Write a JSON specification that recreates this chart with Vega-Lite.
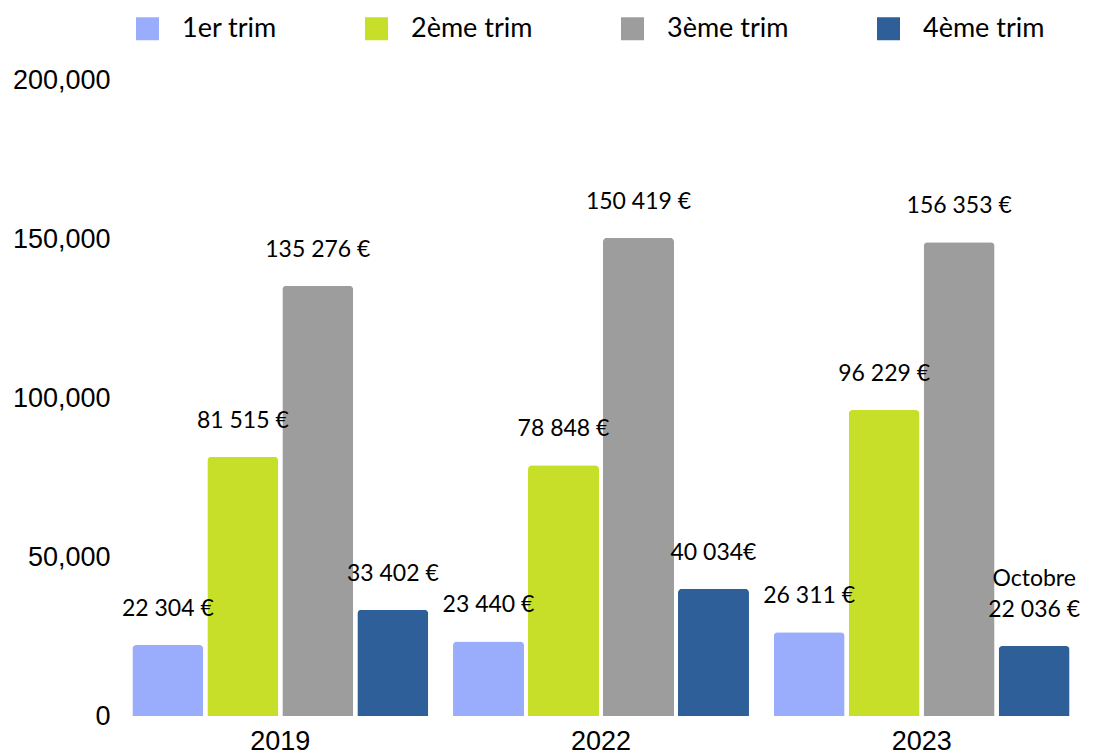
{
  "$schema": "https://vega.github.io/schema/vega-lite/v6.json",
  "width": 962,
  "height": 636,
  "autosize": {"type": "none"},
  "padding": {"left": 120, "top": 80, "right": 19, "bottom": 37},
  "background": "white",
  "config": {"view": {"stroke": null}, "font": "Lato"},
  "data": {
    "values": [
      {"year": "2019", "quarter": "1er trim", "value": 22304, "label": "22 304 €", "note": null},
      {"year": "2019", "quarter": "2ème trim", "value": 81515, "label": "81 515 €", "note": null},
      {"year": "2019", "quarter": "3ème trim", "value": 135276, "label": "135 276 €", "note": null},
      {"year": "2019", "quarter": "4ème trim", "value": 33402, "label": "33 402 €", "note": null},
      {"year": "2022", "quarter": "1er trim", "value": 23440, "label": "23 440 €", "note": null},
      {"year": "2022", "quarter": "2ème trim", "value": 78848, "label": "78 848 €", "note": null},
      {"year": "2022", "quarter": "3ème trim", "value": 150419, "label": "150 419 €", "note": null},
      {"year": "2022", "quarter": "4ème trim", "value": 40034, "label": "40 034€", "note": null},
      {"year": "2023", "quarter": "1er trim", "value": 26311, "label": "26 311 €", "note": null},
      {"year": "2023", "quarter": "2ème trim", "value": 96229, "label": "96 229 €", "note": null},
      {"year": "2023", "quarter": "3ème trim", "value": 149000, "label": "156 353 €", "note": null},
      {"year": "2023", "quarter": "4ème trim", "value": 22036, "label": "22 036 €", "note": "Octobre"}
    ]
  },
  "encoding": {
    "x": {
      "field": "year",
      "type": "nominal",
      "scale": {"paddingInner": 0.077, "paddingOuter": 0.0385},
      "axis": {
        "title": null,
        "labelAngle": 0,
        "ticks": false,
        "domain": false,
        "grid": false,
        "labelFont": "Liberation Sans",
        "labelFontSize": 27,
        "labelColor": "#000000",
        "labelPadding": 12
      }
    },
    "xOffset": {
      "field": "quarter",
      "type": "nominal",
      "scale": {"paddingInner": 0.0533, "paddingOuter": 0}
    },
    "y": {
      "field": "value",
      "type": "quantitative",
      "scale": {"domain": [0, 200000], "nice": false},
      "axis": {
        "title": null,
        "values": [0, 50000, 100000, 150000, 200000],
        "format": ",.0f",
        "grid": false,
        "domain": false,
        "ticks": false,
        "labelFont": "Liberation Sans",
        "labelFontSize": 27,
        "labelColor": "#000000",
        "labelPadding": 10
      }
    }
  },
  "layer": [
    {
      "mark": {"type": "bar", "cornerRadiusTopLeft": 4, "cornerRadiusTopRight": 4},
      "encoding": {
        "color": {
          "field": "quarter",
          "type": "nominal",
          "scale": {
            "domain": ["1er trim", "2ème trim", "3ème trim", "4ème trim"],
            "range": ["#9AADFD", "#C8DF2A", "#9E9D9E", "#2E5F98"]
          },
          "legend": {
            "orient": "none",
            "legendX": 14,
            "legendY": -65,
            "direction": "horizontal",
            "title": null,
            "symbolType": "square",
            "symbolSize": 529,
            "symbolStrokeWidth": 0,
            "symbolOpacity": 1,
            "labelFont": "Lato",
            "labelFontSize": 27,
            "labelColor": "#000000",
            "labelOffset": 21,
            "columnPadding": 86
          }
        }
      }
    },
    {
      "mark": {
        "type": "text",
        "baseline": "middle",
        "dy": -36,
        "fontSize": 23,
        "font": "Lato",
        "color": "#000000"
      },
      "encoding": {
        "text": {"field": "label", "type": "nominal"}
      }
    },
    {
      "transform": [{"filter": "datum.note != null"}],
      "mark": {
        "type": "text",
        "baseline": "middle",
        "dy": -67,
        "fontSize": 23,
        "font": "Lato",
        "color": "#000000"
      },
      "encoding": {
        "text": {"field": "note", "type": "nominal"}
      }
    }
  ]
}
